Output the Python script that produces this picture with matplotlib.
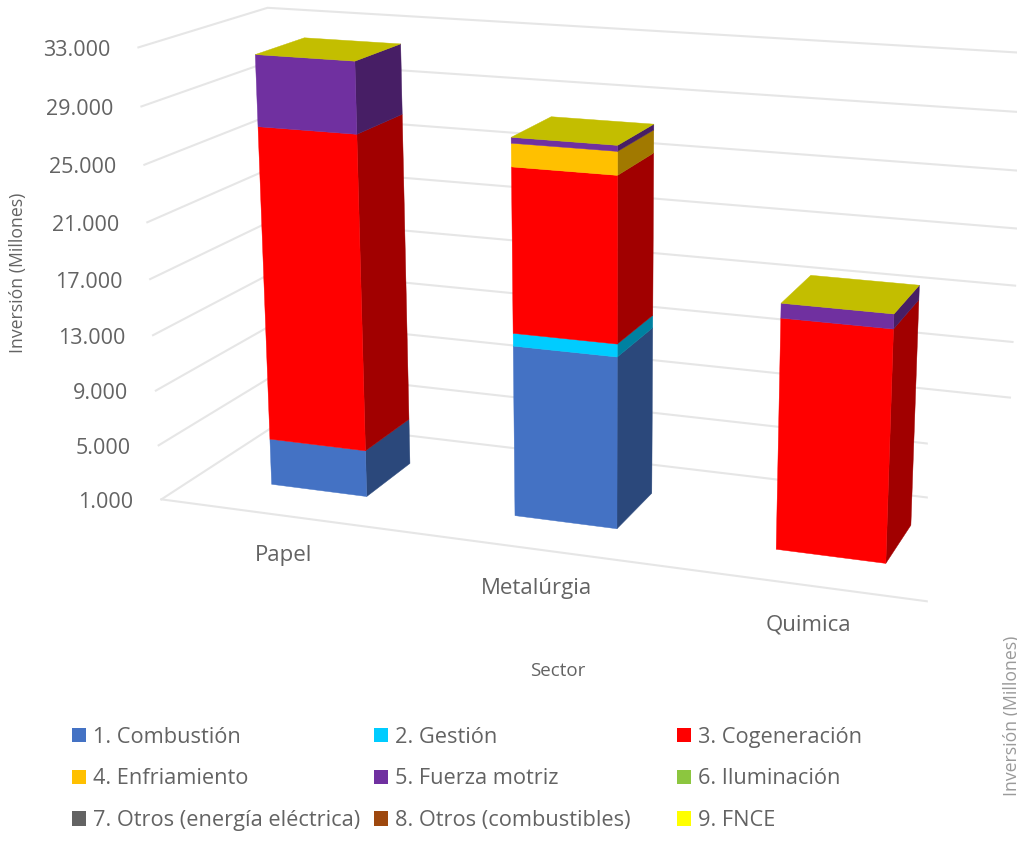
import numpy as np
import matplotlib
matplotlib.use("Agg")
import matplotlib.pyplot as plt
from matplotlib.patches import Patch, Rectangle

plt.rcParams['font.family'] = ['Open Sans', 'DejaVu Sans']

sectores = ["Papel", "Metalúrgia", "Quimica"]
ticks = [1000, 5000, 9000, 13000, 17000, 21000, 25000, 29000, 33000]

series = ["1. Combustión", "2. Gestión", "3. Cogeneración", "4. Enfriamiento", "5. Fuerza motriz",
          "6. Iluminación", "7. Otros (energía eléctrica)", "8. Otros (combustibles)", "9. FNCE"]
colores = ["#4472C4", "#00CCFF", "#FF0000", "#FFC000", "#7030A0",
           "#8CC63F", "#636363", "#9E480E", "#FFFF00"]

combustion = [4400, 13200, 0]
gestion = [0, 900, 0]
cogeneracion = [22600, 11500, 17000]
enfriamiento = [0, 1600, 0]
fuerza_motriz = [5000, 400, 1000]
iluminacion = [0, 0, 0]
otros_electrica = [0, 0, 0]
otros_combustibles = [0, 0, 0]
fnce = [0, 0, 0]
valores = [combustion, gestion, cogeneracion, enfriamiento, fuerza_motriz,
           iluminacion, otros_electrica, otros_combustibles, fnce]

W, H = 1017, 843
GRIS = "#E6E6E6"
TEXTO = "#636363"
TAPA = "#C3BE00"
ANCHO_BARRA = 0.133
DESPLAZA_U = 0.004
D0, D1 = 0.29, 0.69

# Camara: esquinas de la caja del grafico (u, profundidad, valor) vistas en pixeles
caja = [(0, 0, 0), (0, 0, 1), (0, 1, 0), (0, 1, 1), (1, 0, 0), (1, 0, 1), (1, 1, 0), (1, 1, 1)]
pixeles = [(162, 499), (138, 47), (282, 421), (268, 8), (950, 605), (970, 103), (1005, 506), (1026, 53)]

filas = []
for (a, b, c), (px, py) in zip(caja, pixeles):
    filas.append([a, b, c, 1, 0, 0, 0, 0, -px * a, -px * b, -px * c, -px])
    filas.append([0, 0, 0, 0, a, b, c, 1, -py * a, -py * b, -py * c, -py])
P = np.linalg.svd(np.array(filas, dtype=float))[2][-1].reshape(3, 4)


def proyectar(u, d, valor):
    v = (valor - ticks[0]) / (ticks[-1] - ticks[0])
    p = P @ np.array([u, d, v, 1.0])
    return p[0] / p[2], p[1] / p[2]


def oscurecer(color, f=0.63):
    r, g, b = matplotlib.colors.to_rgb(color)
    return (r * f, g * f, b * f)


fig = plt.figure(figsize=(W / 100, H / 100), dpi=100)
ax = fig.add_axes([0, 0, 1, 1])
ax.set_xlim(0, W)
ax.set_ylim(H, 0)
ax.axis("off")

# Paredes
for t in ticks:
    a = proyectar(0, 0, t)
    b = proyectar(0, 1, t)
    c = proyectar(1, 1, t)
    ax.plot([a[0], b[0], c[0]], [a[1], b[1], c[1]], color=GRIS, lw=1.5, zorder=1)
    ax.text(a[0] - 28, a[1] + 3, f"{t:,}".replace(",", "."), ha="right", va="center",
            fontsize=15.5, color=TEXTO, zorder=5)
a = proyectar(0, 0, ticks[0])
b = proyectar(1, 0, ticks[0])
ax.plot([a[0], b[0]], [a[1], b[1]], color=GRIS, lw=1.5, zorder=1)

# Recorte blanco que tiene la imagen a la derecha
ax.add_patch(Rectangle((928, 415), W - 928, H - 415, color="white", zorder=2))

# Barras
for i, sector in enumerate(sectores):
    uc = (i + 0.5) / len(sectores)
    u0, u1 = uc + DESPLAZA_U - ANCHO_BARRA / 2, uc + DESPLAZA_U + ANCHO_BARRA / 2
    base = 0
    for j in range(len(series)):
        val = valores[j][i]
        if val == 0:
            continue
        lo = max(base, ticks[0])
        hi = base + val
        frente = [proyectar(u0, D0, lo), proyectar(u1, D0, lo), proyectar(u1, D0, hi), proyectar(u0, D0, hi)]
        lado = [proyectar(u1, D0, lo), proyectar(u1, D1, lo), proyectar(u1, D1, hi), proyectar(u1, D0, hi)]
        ax.fill(*zip(*lado), color=oscurecer(colores[j]), lw=0.3, zorder=3)
        ax.fill(*zip(*frente), color=colores[j], lw=0.3, zorder=3)
        base = hi
    tapa = [proyectar(u0, D0, base), proyectar(u1, D0, base), proyectar(u1, D1, base), proyectar(u0, D1, base)]
    ax.fill(*zip(*tapa), color=TAPA, lw=0.3, zorder=4)

    x, y = proyectar(uc, 0, ticks[0])
    ax.text(x + 2, y + 40, sector, ha="center", va="center", fontsize=16, color=TEXTO, zorder=5)

ax.text(18, 273, "Inversión (Millones)", rotation=90, ha="center", va="center", fontsize=12.7, color=TEXTO)
ax.text(558, 671, "Sector", ha="center", va="center", fontsize=13.5, color=TEXTO)
# Trozo de otro titulo que queda cortado en el borde de la imagen
ax.text(1012, 716, "Inversión (Millones)", rotation=90, ha="center", va="center", fontsize=12.7,
        color="#9A9A9A", clip_on=True, zorder=6)

# Leyenda: tres columnas sueltas porque no tienen el mismo ancho
columnas = [(0, 3, 6), (1, 4, 7), (2, 5, 8)]
for n, (col, x_col) in enumerate(zip(columnas, [65.5, 367, 670])):
    handles = [Patch(facecolor=colores[k], edgecolor="none", label=series[k]) for k in col]
    leg = ax.legend(handles=handles, loc="upper left", bbox_to_anchor=(x_col, 720),
                    bbox_transform=ax.transData, frameon=False, fontsize=15.7, ncol=1,
                    handlelength=0.65, handleheight=0.65, handletextpad=0.32,
                    labelspacing=0.96, labelcolor=TEXTO, borderpad=0.3, borderaxespad=0)
    leg.set_zorder(6)
    # la ultima ya queda como leyenda del eje, no hay que dibujarla dos veces
    if n < len(columnas) - 1:
        ax.add_artist(leg)

plt.savefig("out.png", dpi=100)
